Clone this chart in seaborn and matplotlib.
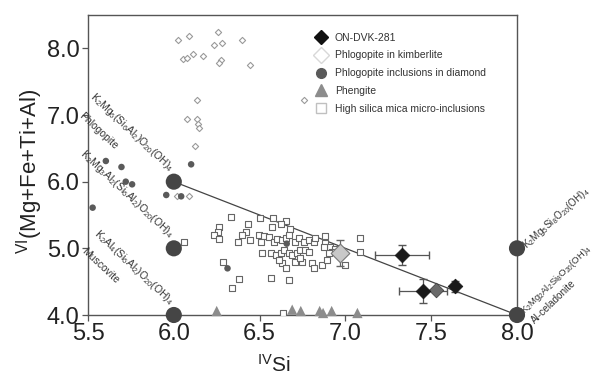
import numpy as np
import pandas as pd
import matplotlib
matplotlib.use("Agg")
import matplotlib.pyplot as plt
import seaborn as sns
from matplotlib.lines import Line2D

# endmember compositions
end_x = [6.0, 6.0, 6.0, 8.0, 8.0]
end_y = [6.0, 5.0, 4.0, 5.0, 4.0]

# ON-DVK-281 (with errors)
dvk_x = [7.33, 7.45, 7.64]
dvk_y = [4.90, 4.36, 4.43]
dvk_xerr = [0.16, 0.14, 0.0]
dvk_yerr = [0.15, 0.18, 0.08]
dvk2_x = [7.53]
dvk2_y = [4.37]

# phlogopite in kimberlite (small diamonds)
kimb_x = [6.023, 6.087, 6.255, 6.281, 6.236, 6.397, 6.052, 6.076, 6.110, 6.168,
          6.275, 6.265, 6.443, 6.136, 6.076, 6.134, 6.142, 6.145, 6.126, 6.758,
          6.02, 6.09]
kimb_y = [8.12, 8.18, 8.25, 8.085, 8.045, 8.12, 7.835, 7.85, 7.91, 7.88,
          7.83, 7.78, 7.755, 7.23, 6.94, 6.94, 6.87, 6.81, 6.54, 7.22,
          5.78, 5.78]
kimb_mean_x = [6.97]
kimb_mean_y = [4.93]

# phlogopite inclusions in diamond
dinc_x = [5.604, 5.695, 5.72, 5.757, 6.101, 5.527, 5.956, 6.043, 6.313, 6.658]
dinc_y = [6.31, 6.22, 6.0, 5.96, 6.26, 5.61, 5.80, 5.78, 4.70, 5.07]

# phengite
phen_x = [6.25, 6.69, 6.74, 6.85, 6.87, 6.92, 7.07]
phen_y = [4.06, 4.08, 4.06, 4.06, 4.03, 4.06, 4.03]

# high silica mica micro-inclusions
hs_x = [6.333, 6.501, 6.578, 6.655, 6.622, 6.574, 6.435, 6.680, 6.420, 6.265,
        6.255, 6.236, 6.265, 6.375, 6.400, 6.443, 6.497, 6.526, 6.507, 6.555,
        6.584, 6.603, 6.632, 6.655, 6.671, 6.709, 6.729, 6.758, 6.787, 6.816,
        6.825, 6.879, 6.883, 6.912, 6.941, 6.922, 6.903, 6.874, 6.980, 6.999,
        7.086, 7.086, 6.516, 6.564, 6.593, 6.622, 6.642, 6.671, 6.690, 6.719,
        6.738, 6.767, 6.787, 6.632, 6.613, 6.651, 6.709, 6.748, 6.806, 6.816,
        6.864, 6.893, 6.738, 6.284, 6.381, 6.342, 6.564, 6.671, 6.638, 6.062]
hs_y = [5.463, 5.448, 5.448, 5.413, 5.363, 5.323, 5.363, 5.284, 5.249, 5.323,
        5.249, 5.199, 5.134, 5.099, 5.199, 5.124, 5.199, 5.184, 5.099, 5.174,
        5.099, 5.134, 5.124, 5.149, 5.199, 5.099, 5.149, 5.099, 5.124, 5.099,
        5.149, 5.184, 5.074, 5.024, 4.984, 4.949, 4.924, 5.024, 4.949, 4.749,
        5.149, 4.949, 4.934, 4.924, 4.899, 4.934, 4.974, 4.924, 4.899, 4.924,
        4.974, 4.974, 4.949, 4.774, 4.824, 4.699, 4.799, 4.799, 4.774, 4.699,
        4.749, 4.824, 4.849, 4.789, 4.540, 4.400, 4.550, 4.525, 4.025, 5.10]

xticks = [5.5, 6.0, 6.5, 7.0, 7.5, 8.0]
yticks = [4.0, 5.0, 6.0, 7.0, 8.0]

legend_labels = ["ON-DVK-281", "Phlogopite in kimberlite",
                 "Phlogopite inclusions in diamond", "Phengite",
                 "High silica mica micro-inclusions"]

sns.set_style("white")
plt.rcParams['font.family'] = ['Liberation Sans', 'DejaVu Sans']
plt.rcParams['mathtext.fontset'] = 'custom'
plt.rcParams['mathtext.rm'] = 'Liberation Sans'
plt.rcParams['mathtext.it'] = 'Liberation Sans:italic'

fig = plt.figure(figsize=(5.97, 3.75), dpi=100)
ax = fig.add_axes([88/597, 60/375, 429/597, 300/375])

# tie line phlogopite - Al-celadonite
ax.plot([end_x[0], end_x[4]], [end_y[0], end_y[4]], color="#444444", lw=0.9, zorder=1)

sns.scatterplot(x=kimb_x, y=kimb_y, marker="D", s=10, facecolor="white",
                edgecolor="#9a9a9a", linewidth=0.8, ax=ax, zorder=2)
sns.scatterplot(x=hs_x, y=hs_y, marker="s", s=22, facecolor="white",
                edgecolor="#666666", linewidth=0.8, ax=ax, zorder=3)
sns.scatterplot(x=dinc_x, y=dinc_y, marker="o", s=22, color="#5a5a5a",
                edgecolor="none", ax=ax, zorder=3)
sns.scatterplot(x=phen_x, y=phen_y, marker="^", s=55, color="#8c8c8c",
                edgecolor="none", ax=ax, zorder=3, clip_on=False)

ax.errorbar(kimb_mean_x, kimb_mean_y, yerr=0.2, fmt="none", ecolor="#666666",
            elinewidth=0.9, capsize=3, zorder=4)
sns.scatterplot(x=kimb_mean_x, y=kimb_mean_y, marker="D", s=90, color="#c8c8c8",
                edgecolor="#777777", linewidth=0.8, ax=ax, zorder=5)

ax.errorbar(dvk_x, dvk_y, xerr=dvk_xerr, yerr=dvk_yerr, fmt="none", ecolor="#555555",
            elinewidth=0.9, capsize=3, zorder=4)
sns.scatterplot(x=dvk2_x, y=dvk2_y, marker="D", s=55, color="#6a6a6a",
                edgecolor="#444444", linewidth=0.6, ax=ax, zorder=5)
sns.scatterplot(x=dvk_x, y=dvk_y, marker="D", s=55, color="#1a1a1a",
                edgecolor="#1a1a1a", linewidth=0.6, ax=ax, zorder=6)

sns.scatterplot(x=end_x, y=end_y, marker="o", s=135, color="#454545",
                edgecolor="none", ax=ax, zorder=7, clip_on=False)

ax.set_xlim(5.5, 8.0)
ax.set_ylim(4.0, 8.5)
ax.set_xticks(xticks)
ax.set_yticks(yticks)
ax.set_xticklabels([f"{v:.1f}" for v in xticks], fontsize=17, color="#222222")
ax.set_yticklabels([f"{v:.1f}" for v in yticks], fontsize=17, color="#222222")
ax.tick_params(axis="both", direction="out", length=4, width=0.9, color="#555555",
               bottom=True, left=True, pad=2)
for sp in ax.spines.values():
    sp.set_color("#555555")
    sp.set_linewidth(1.0)

ax.set_ylabel(r"$^{\mathrm{VI}}$(Mg+Fe+Ti+Al)", fontsize=16, color="#222222")
ax.yaxis.set_label_coords(-0.10, 0.48)
ax.set_xlabel(r"$^{\mathrm{IV}}$Si", fontsize=15, color="#222222")
ax.xaxis.set_label_coords(0.433, -0.13)

# endmember labels
lab_kw = dict(fontsize=7.5, color="#333333", rotation_mode="anchor", clip_on=False)
ax.annotate(r"K$_2$Mg$_6$(Si$_6$Al$_2$)O$_{20}$(OH)$_4$", xy=(6.0, 6.0),
            xytext=(-5, 5), textcoords="offset points", ha="right", va="bottom",
            rotation=-43, **lab_kw)
ax.text(5.475, 7.07, "Phlogopite", ha="left", va="top", rotation=-43, **lab_kw)
ax.annotate(r"K$_2$Mg$_3$Al$_2$(Si$_6$Al$_2$)O$_{20}$(OH)$_4$", xy=(6.0, 5.0),
            xytext=(-5, 5), textcoords="offset points", ha="right", va="bottom",
            rotation=-43, **lab_kw)
ax.annotate(r"K$_2$Al$_4$(Si$_6$Al$_2$)O$_{20}$(OH)$_4$", xy=(6.0, 4.0),
            xytext=(-5, 5), textcoords="offset points", ha="right", va="bottom",
            rotation=-43, **lab_kw)
ax.text(5.49, 5.04, "Muscovite", ha="left", va="top", rotation=-43, **lab_kw)

rlab_kw = dict(lab_kw, fontsize=7.2)
ax.annotate(r"K$_2$Mg$_5$Si$_8$O$_{20}$(OH)$_4$", xy=(8.0, 5.0),
            xytext=(5, 1), textcoords="offset points", ha="left", va="center",
            rotation=42, **rlab_kw)
ax.annotate(r"K$_2$Mg$_2$Al$_2$Si$_8$O$_{20}$(OH)$_4$", xy=(8.0, 4.0),
            xytext=(4, 2), textcoords="offset points", ha="left", va="center",
            rotation=44, **dict(lab_kw, fontsize=6.8))
ax.text(8.09, 3.90, "Al-celadonite", ha="left", va="center", rotation=44, **rlab_kw)

handles = [
    Line2D([], [], ls="none", marker="D", ms=7, mfc="#111111", mec="#111111"),
    Line2D([], [], ls="none", marker="D", ms=8, mfc="white", mec="#d8d8d8"),
    Line2D([], [], ls="none", marker="o", ms=7, mfc="#5a5a5a", mec="#5a5a5a"),
    Line2D([], [], ls="none", marker="^", ms=8, mfc="#8c8c8c", mec="#8c8c8c"),
    Line2D([], [], ls="none", marker="s", ms=7, mfc="white", mec="#c0c0c0"),
]
leg = ax.legend(handles, legend_labels, loc="upper left", bbox_to_anchor=(0.51, 0.955),
                frameon=False, fontsize=7.5, handletextpad=0.3, labelspacing=0.75,
                borderaxespad=0)
for t in leg.get_texts():
    t.set_color("#333333")

fig.savefig("out.png", dpi=100)
